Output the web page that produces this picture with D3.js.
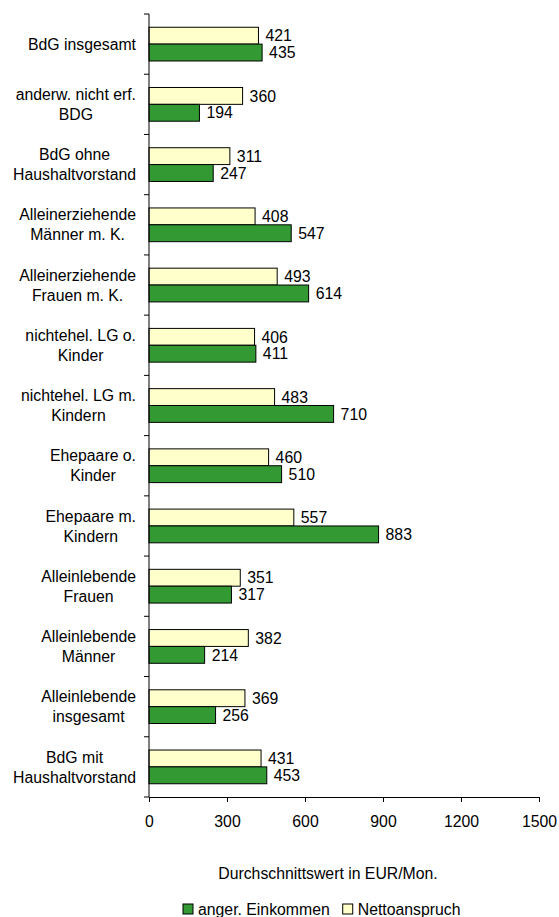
<!DOCTYPE html>
<html>
<head>
<meta charset="utf-8">
<script src="https://cdn.jsdelivr.net/npm/d3@7"></script>
<style>
  html, body { margin: 0; padding: 0; background: #ffffff; }
  svg text { font-family: "Liberation Sans", Arial, sans-serif; fill: #000; }
</style>
</head>
<body>
<svg id="chart" width="559" height="917"></svg>
<script>
// Household groups (label lines), top to bottom
const categories = [
  ["BdG insgesamt"],
  ["anderw. nicht erf.", "BDG"],
  ["BdG ohne", "Haushaltvorstand"],
  ["Alleinerziehende", "Männer m. K."],
  ["Alleinerziehende", "Frauen m. K."],
  ["nichtehel. LG o.", "Kinder"],
  ["nichtehel. LG m.", "Kindern"],
  ["Ehepaare o.", "Kinder"],
  ["Ehepaare m.", "Kindern"],
  ["Alleinlebende", "Frauen"],
  ["Alleinlebende", "Männer"],
  ["Alleinlebende", "insgesamt"],
  ["BdG mit", "Haushaltvorstand"]
];
const nettoanspruch = [421, 360, 311, 408, 493, 406, 483, 460, 557, 351, 382, 369, 431];
const angerEinkommen = [435, 194, 247, 547, 614, 411, 710, 510, 883, 317, 214, 256, 453];
const xTicks = [0, 300, 600, 900, 1200, 1500];
const seriesNames = ["Nettoanspruch", "anger. Einkommen"];
const legendOrder = ["anger. Einkommen", "Nettoanspruch"];
const seriesColors = { "Nettoanspruch": "#ffffcc", "anger. Einkommen": "#339933" };
const axisTitle = "Durchschnittswert in EUR/Mon.";

const FONT = "15.8px";
const svg = d3.select("#chart");
const plot = { left: 149, right: 539, top: 14, bottom: 797 };

const x = d3.scaleLinear().domain([0, 1500]).range([plot.left, plot.right]);
const y = d3.scaleBand().domain(d3.range(categories.length)).range([plot.top, plot.bottom]).padding(0);
const ySub = d3.scaleBand().domain(seriesNames)
  .range([y.bandwidth() * 0.22, y.bandwidth() * 0.78]).padding(0);

const rows = categories.map((c, i) => ({
  i,
  values: [
    { key: "Nettoanspruch", v: nettoanspruch[i] },
    { key: "anger. Einkommen", v: angerEinkommen[i] }
  ]
}));

// Bars
const g = svg.append("g");
const groups = g.selectAll("g.row").data(rows).join("g")
  .attr("class", "row")
  .attr("transform", d => `translate(0,${y(d.i)})`);

groups.selectAll("rect").data(d => d.values).join("rect")
  .attr("x", x(0))
  .attr("y", d => ySub(d.key))
  .attr("width", d => x(d.v) - x(0))
  .attr("height", ySub.bandwidth())
  .attr("fill", d => seriesColors[d.key])
  .attr("stroke", "#000")
  .attr("stroke-width", 1);

groups.selectAll("text.val").data(d => d.values).join("text")
  .attr("class", "val")
  .attr("x", d => x(d.v) + 7)
  .attr("y", d => ySub(d.key) + ySub.bandwidth() / 2)
  .attr("dy", "0.36em")
  .attr("font-size", FONT)
  .text(d => d.v);

// X axis
const xAxis = d3.axisBottom(x).tickValues(xTicks).tickFormat(d3.format("d"))
  .tickSize(5).tickSizeOuter(0).tickPadding(14);
const gx = svg.append("g").attr("transform", `translate(0,${plot.bottom})`).call(xAxis);
gx.select(".domain").attr("stroke", "#000");
gx.selectAll(".tick line").attr("stroke", "#000");
gx.selectAll(".tick text").attr("font-size", FONT).attr("font-family", "Liberation Sans, Arial, sans-serif").attr("fill", "#000");

// Y axis line with ticks at band boundaries
const yEdges = d3.range(categories.length + 1).map(i => plot.top + i * y.bandwidth());
svg.append("line")
  .attr("x1", x(0)).attr("x2", x(0))
  .attr("y1", plot.top).attr("y2", plot.bottom)
  .attr("stroke", "#000");
svg.selectAll("line.ytick").data(yEdges).join("line")
  .attr("class", "ytick")
  .attr("x1", x(0) - 5).attr("x2", x(0))
  .attr("y1", d => d).attr("y2", d => d)
  .attr("stroke", "#000");

// Category labels: block right-aligned, lines centred within block
const labelRight = 136;
const lineGap = 20;
categories.forEach((lines, i) => {
  const cy = y(i) + y.bandwidth() / 2;
  const texts = lines.map((ln, k) => svg.append("text")
    .attr("font-size", FONT)
    .attr("text-anchor", "middle")
    .attr("y", cy + (k - (lines.length - 1) / 2) * lineGap)
    .attr("dy", "0.36em")
    .text(ln));
  const maxW = d3.max(texts, t => t.node().getComputedTextLength());
  texts.forEach(t => t.attr("x", labelRight - maxW / 2));
});

// Axis title
svg.append("text")
  .attr("x", 328).attr("y", 879)
  .attr("text-anchor", "middle")
  .attr("font-size", FONT)
  .text(axisTitle);

// Legend
const legend = svg.append("g");
let lx = 183;
legendOrder.forEach(name => {
  legend.append("rect")
    .attr("x", lx).attr("y", 904)
    .attr("width", 10).attr("height", 10)
    .attr("fill", seriesColors[name])
    .attr("stroke", "#000");
  const t = legend.append("text")
    .attr("x", lx + 15).attr("y", 915)
    .attr("font-size", FONT)
    .text(name);
  lx += 15 + t.node().getComputedTextLength() + 13;
});
</script>
</body>
</html>
